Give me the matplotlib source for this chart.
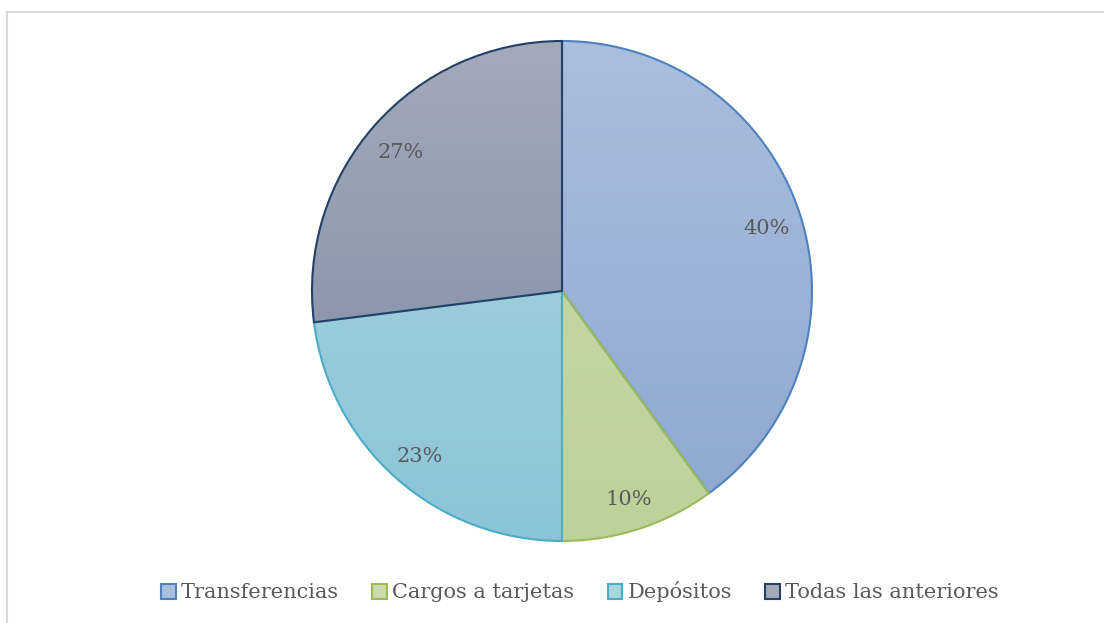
import matplotlib
matplotlib.use("Agg")
import matplotlib.pyplot as plt
import numpy as np
from matplotlib.patches import Patch, Rectangle
from matplotlib.colors import LinearSegmentedColormap

categories = ["Transferencias", "Cargos a tarjetas", "Depósitos", "Todas las anteriores"]
values = [40, 10, 23, 27]
top_colors = ["#AABEDD", "#CCDBAA", "#ABD4E2", "#A2AABA"]
bottom_colors = ["#8DA7D2", "#BCD298", "#8BC5D8", "#7C87A3"]
edge_colors = ["#4F81BD", "#9BBB59", "#4BACC6", "#253F66"]

plt.rcParams['font.family'] = ['DejaVu Serif']
fig = plt.figure(figsize=(11.04, 6.23), dpi=100)
fig.patches.append(Rectangle((7/1104, -0.1), 1.2, (1 - 12/623) + 0.1, transform=fig.transFigure,
                             fill=False, edgecolor="#D9D9D9", linewidth=1.5))

R = 250
cx, cy = 562, 623 - 291
ax = fig.add_axes([(cx - R) / 1104, (cy - R) / 623, 2 * R / 1104, 2 * R / 623])
wedges, texts, autotexts = ax.pie(values, startangle=90, counterclock=False, radius=1,
                                  colors=top_colors, autopct='%1.0f%%', pctdistance=0.86,
                                  wedgeprops=dict(linewidth=1.5), textprops=dict(color="#595959", fontsize=15))
ax.set_xlim(-1, 1)
ax.set_ylim(-1, 1)
ax.set_aspect('equal')
for w, tc, bc, ec in zip(wedges, top_colors, bottom_colors, edge_colors):
    w.set_edgecolor(ec)
    cmap = LinearSegmentedColormap.from_list("g", [bc, tc])
    grad = np.linspace(0, 1, 256).reshape(-1, 1)
    im = ax.imshow(grad, extent=(-1, 1, -1, 1), origin='lower', cmap=cmap, aspect='auto', zorder=w.get_zorder() - 0.1)
    im.set_clip_path(w)
    w.set_facecolor('none')
for t in autotexts:
    t.set_zorder(5)
    x, y = t.get_position()
    t.set_position((x, y - 0.015))

handles = [Patch(facecolor=tc, edgecolor=ec, linewidth=1.5) for tc, ec in zip(top_colors, edge_colors)]
leg = fig.legend(handles, categories, loc='center', bbox_to_anchor=(580 / 1104, 1 - 592 / 623), ncol=4,
                 frameon=False, fontsize=15, handlelength=0.7, handleheight=0.7, handletextpad=0.25,
                 columnspacing=1.6, labelcolor="#595959")
fig.savefig("out.png", dpi=100)
